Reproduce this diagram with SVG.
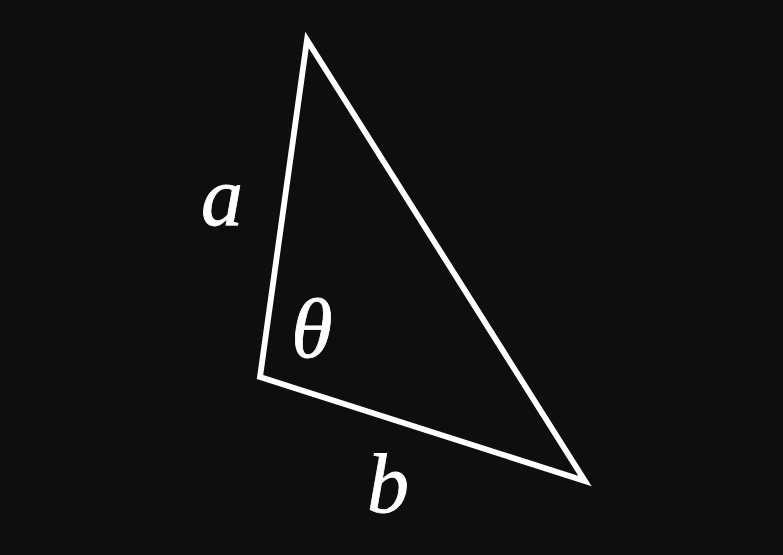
<svg xmlns="http://www.w3.org/2000/svg" width="783" height="555" viewBox="0 0 783 555">
<style>
.lbl{font-family:"Liberation Serif","DejaVu Serif",serif;font-style:italic;font-size:84px;fill:#ffffff;text-anchor:middle;stroke:#ffffff;stroke-width:0.8}
</style>
<rect width="783" height="555" fill="#0e0e0e"/>
<g id="connectors">
<polygon id="triangle" points="307,40 260,377 585,481" fill="none" stroke="#ffffff" stroke-width="5.8" stroke-linejoin="miter"/>
</g>
<g id="label-a"><text class="lbl" x="222" y="225">a</text></g>
<g id="label-theta"><text class="lbl" x="312" y="357">θ</text></g>
<g id="label-b"><text class="lbl" x="388" y="512">b</text></g>
</svg>
